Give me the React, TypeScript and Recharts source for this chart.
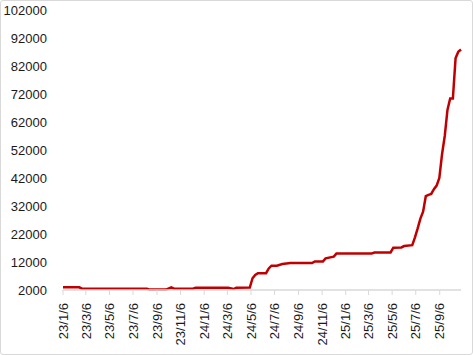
import { LineChart, Line, XAxis, YAxis } from "recharts";

// weekly readings (Fridays), only where the line bends
const DATES = [
   "2023-01-06", "2023-02-17", "2023-02-24", "2023-08-11", "2023-08-18", "2023-09-29",
   "2023-10-13", "2023-10-20", "2023-12-08", "2023-12-15", "2024-03-08", "2024-03-22",
   "2024-03-29", "2024-05-03", "2024-05-10", "2024-05-17", "2024-05-24", "2024-06-14",
   "2024-06-21", "2024-06-28", "2024-07-12", "2024-07-26", "2024-08-16", "2024-10-11",
   "2024-10-18", "2024-11-08", "2024-11-15", "2024-12-06", "2024-12-13", "2025-03-14",
   "2025-03-21", "2025-05-02", "2025-05-09", "2025-05-30", "2025-06-06", "2025-06-27",
   "2025-07-04", "2025-07-11", "2025-07-18", "2025-07-25", "2025-08-01", "2025-08-08",
   "2025-08-15", "2025-08-22", "2025-08-29", "2025-09-05", "2025-09-12", "2025-09-19",
   "2025-09-26", "2025-10-03", "2025-10-10", "2025-10-17", "2025-10-24", "2025-10-31",
];

const VALUES = [
   2960, 2960, 2460, 2460, 2150, 2150,
   2900, 2450, 2450, 2800, 2800, 2350,
   2800, 2900, 6200, 7400, 8000, 8000,
   9700, 10700, 10700, 11300, 11600, 11600,
   12200, 12200, 13300, 13900, 15000, 15000,
   15400, 15400, 17100, 17200, 17700, 18000,
   20800, 24000, 27500, 30000, 35500, 36000,
   36300, 38000, 39300, 42000, 50500, 57000,
   66300, 70400, 70400, 84800, 87100, 87900,
];

const X_TICKS = [
   "2023-01-06", "2023-03-06", "2023-05-06", "2023-07-06", "2023-09-06", "2023-11-06",
   "2024-01-06", "2024-03-06", "2024-05-06", "2024-07-06", "2024-09-06", "2024-11-06",
   "2025-01-06", "2025-03-06", "2025-05-06", "2025-07-06", "2025-09-06",
];

const Y_TICKS = [2000, 12000, 22000, 32000, 42000, 52000, 62000, 72000, 82000, 92000, 102000];

const FONT = "'Liberation Sans', Arial, sans-serif";

const toTime = (s: string) => Date.parse(s + "T00:00:00Z");

const fmtDate = (t: number) => {
   const d = new Date(t);
   return `${d.getUTCFullYear() % 100}/${d.getUTCMonth() + 1}/${d.getUTCDate()}`;
};

const DateTick = (props: any) => {
   const { x, y, payload } = props;
   return (
      <g transform={`translate(${x},${y + 6}) rotate(-90)`}>
         <text textAnchor="end" dy="0.36em" fill="#1a1a1a" fontSize={13} fontFamily={FONT}>
            {fmtDate(payload.value)}
         </text>
      </g>
   );
};

const App = () => {
   const data = DATES.map((d, i) => ({ t: toTime(d), v: VALUES[i] }));
   const ticks = X_TICKS.map(toTime);

   return (
      <div
         style={{
            position: "absolute",
            left: 0,
            top: 0,
            width: 473,
            height: 355,
            boxSizing: "border-box",
            border: "1px solid #d9d9d9",
            borderRadius: 3,
            background: "#fff",
         }}>
         <div style={{ position: "absolute", left: -1, top: -1 }}>
            <LineChart width={473} height={355} data={data} margin={{ top: 10, right: 12, bottom: 0, left: 0 }}>
               <XAxis
                  dataKey="t"
                  type="number"
                  scale="time"
                  domain={[toTime(DATES[0]), toTime(DATES[DATES.length - 1])]}
                  ticks={ticks}
                  tick={<DateTick />}
                  height={65}
                  axisLine={{ stroke: "#d9d9d9", strokeWidth: 1.5 }}
                  tickLine={{ stroke: "#d9d9d9" }}
                  tickSize={5}
                  interval={0}
               />
               <YAxis
                  domain={[2000, 102000]}
                  ticks={Y_TICKS}
                  interval={0}
                  width={63}
                  axisLine={false}
                  tickLine={false}
                  tickSize={0}
                  tickMargin={16}
                  tick={{ fill: "#1a1a1a", fontSize: 13, fontFamily: FONT }}
               />
               <Line
                  type="linear"
                  dataKey="v"
                  stroke="#c00000"
                  strokeWidth={2.5}
                  dot={false}
                  isAnimationActive={false}
               />
            </LineChart>
         </div>
      </div>
   );
};

export default App;
